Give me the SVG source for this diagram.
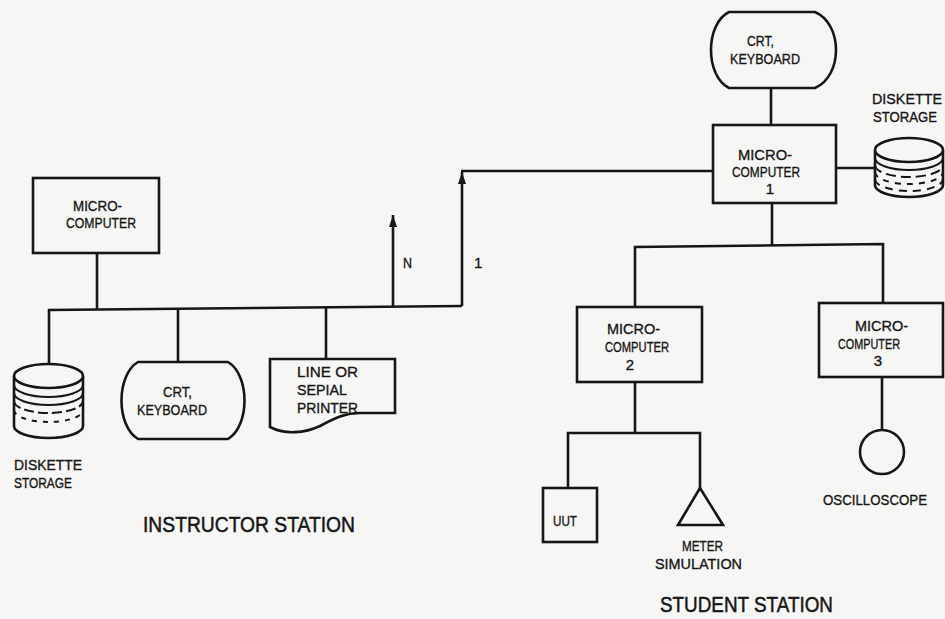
<svg xmlns="http://www.w3.org/2000/svg" width="945" height="619" viewBox="0 0 945 619">
<defs>
<style>
.s{fill:none;stroke:#161616;stroke-width:2.6;stroke-linejoin:miter}
.n{fill:#f6f6f4;stroke:#161616;stroke-width:2.6}
.st{fill:none;stroke:#161616;stroke-width:2}
.t{font-family:"Liberation Sans",Arial,sans-serif;font-size:15px;fill:#161616;stroke:#161616;stroke-width:0.35}
.b{font-family:"Liberation Sans",Arial,sans-serif;font-size:22px;fill:#161616;stroke:#161616;stroke-width:0.5}
</style>
<marker id="ah" viewBox="0 0 12 8" refX="12" refY="4" markerWidth="12" markerHeight="8" markerUnits="userSpaceOnUse" orient="auto">
<path d="M0,0 L12,4 L0,8 z" fill="#161616"/>
</marker>
</defs>
<rect width="945" height="619" fill="#f6f6f4"/>

<g id="connectors">
<path class="s" d="M97,253 V309"/>
<path class="s" d="M49,363 V310 L462,306"/>
<path class="s" d="M178,309 V362"/>
<path class="s" d="M326,308 V359"/>
<path class="s" d="M393,307 V215" marker-end="url(#ah)"/>
<path class="s" d="M462,306 V172" marker-end="url(#ah)"/>
<path class="s" d="M461,171 H713"/>
<path class="s" d="M771,88 V125"/>
<path class="s" d="M836,168 H875"/>
<path class="s" d="M772,203 V246"/>
<path class="s" d="M635,307 V247 L883,244 V303"/>
<path class="s" d="M635,382 V433"/>
<path class="s" d="M568,488 V433 H700 V488"/>
<path class="s" d="M882,377 V430"/>
</g>

<g id="instructor-micro">
<rect class="n" x="33" y="178" width="126" height="75"/>
<text class="t" x="73" y="211" textLength="49" lengthAdjust="spacingAndGlyphs">MICRO-</text>
<text class="t" x="66" y="228" textLength="70" lengthAdjust="spacingAndGlyphs">COMPUTER</text>
</g>

<g id="instructor-diskette">
<path class="n" d="M14,376 V426 A34.5,12 0 0 0 83,426 V376"/>
<ellipse class="n" cx="48.5" cy="376" rx="34.5" ry="12"/>
<path class="st" d="M14,385 A34.5,12 0 0 0 83,385"/>
<path class="st" d="M14,393 A34.5,12 0 0 0 83,393"/>
<path class="st" d="M14,401 A34.5,12 0 0 0 83,401" stroke-dasharray="10 4"/>
<path class="st" d="M14,410 A34.5,12 0 0 0 83,410" stroke-dasharray="5 6"/>
<text class="t" x="14" y="470" textLength="68" lengthAdjust="spacingAndGlyphs">DISKETTE</text>
<text class="t" x="14" y="488" textLength="58" lengthAdjust="spacingAndGlyphs">STORAGE</text>
</g>

<g id="instructor-crt">
<path class="n" d="M138,362 H228 C250,375 250,426 228,439 H138 C116,426 116,375 138,362 Z"/>
<text class="t" x="163" y="397" textLength="29" lengthAdjust="spacingAndGlyphs">CRT,</text>
<text class="t" x="137" y="415" textLength="70" lengthAdjust="spacingAndGlyphs">KEYBOARD</text>
</g>

<g id="printer">
<path class="n" d="M270,359 H395 V413 L360,413 C345,413 335,418 320,426 C305,433 285,435 270,427 Z"/>
<text class="t" x="297" y="377" textLength="61" lengthAdjust="spacingAndGlyphs">LINE OR</text>
<text class="t" x="297" y="395" textLength="50" lengthAdjust="spacingAndGlyphs">SEPIAL</text>
<text class="t" x="297" y="413" textLength="61" lengthAdjust="spacingAndGlyphs">PRINTER</text>
</g>

<g id="labels">
<text class="t" x="403" y="268" textLength="9" lengthAdjust="spacingAndGlyphs">N</text>
<text class="t" x="474" y="268">1</text>
<text class="b" x="143" y="532" textLength="212" lengthAdjust="spacingAndGlyphs">INSTRUCTOR STATION</text>
<text class="b" x="660" y="612" textLength="173" lengthAdjust="spacingAndGlyphs">STUDENT STATION</text>
</g>

<g id="student-crt">
<path class="n" d="M729,12 H815 C843,24 843,76 815,88 H729 C705,76 705,24 729,12 Z"/>
<text class="t" x="747" y="46" textLength="27" lengthAdjust="spacingAndGlyphs">CRT,</text>
<text class="t" x="730" y="64" textLength="70" lengthAdjust="spacingAndGlyphs">KEYBOARD</text>
</g>

<g id="micro1">
<rect class="n" x="713" y="125" width="123" height="78"/>
<text class="t" x="738" y="160" textLength="54" lengthAdjust="spacingAndGlyphs">MICRO-</text>
<text class="t" x="732" y="177" textLength="68" lengthAdjust="spacingAndGlyphs">COMPUTER</text>
<text class="t" x="770" y="194" text-anchor="middle">1</text>
</g>

<g id="student-diskette">
<path class="n" d="M875,150 V185 A34,12 0 0 0 943,185 V150"/>
<ellipse class="n" cx="909" cy="150" rx="34" ry="12"/>
<path class="st" d="M875,158 A34,12 0 0 0 943,158"/>
<path class="st" d="M875,165 A34,12 0 0 0 943,165" stroke-dasharray="10 5"/>
<path class="st" d="M875,172 A34,12 0 0 0 943,172" stroke-dasharray="6 6"/>
<path class="st" d="M875,179 A34,12 0 0 0 943,179" stroke-dasharray="8 6"/>
<text class="t" x="872" y="104" textLength="70" lengthAdjust="spacingAndGlyphs">DISKETTE</text>
<text class="t" x="873" y="122" textLength="64" lengthAdjust="spacingAndGlyphs">STORAGE</text>
</g>

<g id="micro2">
<rect class="n" x="577" y="307" width="125" height="75"/>
<text class="t" x="607" y="334" textLength="53" lengthAdjust="spacingAndGlyphs">MICRO-</text>
<text class="t" x="605" y="352" textLength="64" lengthAdjust="spacingAndGlyphs">COMPUTER</text>
<text class="t" x="630" y="370" text-anchor="middle">2</text>
</g>

<g id="micro3">
<rect class="n" x="819" y="303" width="124" height="74"/>
<text class="t" x="855" y="331" textLength="53" lengthAdjust="spacingAndGlyphs">MICRO-</text>
<text class="t" x="838" y="349" textLength="62" lengthAdjust="spacingAndGlyphs">COMPUTER</text>
<text class="t" x="878" y="366" text-anchor="middle">3</text>
</g>

<g id="uut">
<rect class="n" x="543" y="488" width="54" height="54"/>
<text class="t" x="553" y="526" textLength="24" lengthAdjust="spacingAndGlyphs">UUT</text>
</g>

<g id="meter">
<polygon class="n" points="700,488 678,525 723,525"/>
<text class="t" x="682" y="551" textLength="41" lengthAdjust="spacingAndGlyphs">METER</text>
<text class="t" x="655" y="569" textLength="87" lengthAdjust="spacingAndGlyphs">SIMULATION</text>
</g>

<g id="oscilloscope">
<circle class="n" cx="882" cy="452" r="22"/>
<text class="t" x="823" y="505" textLength="104" lengthAdjust="spacingAndGlyphs">OSCILLOSCOPE</text>
</g>
</svg>
